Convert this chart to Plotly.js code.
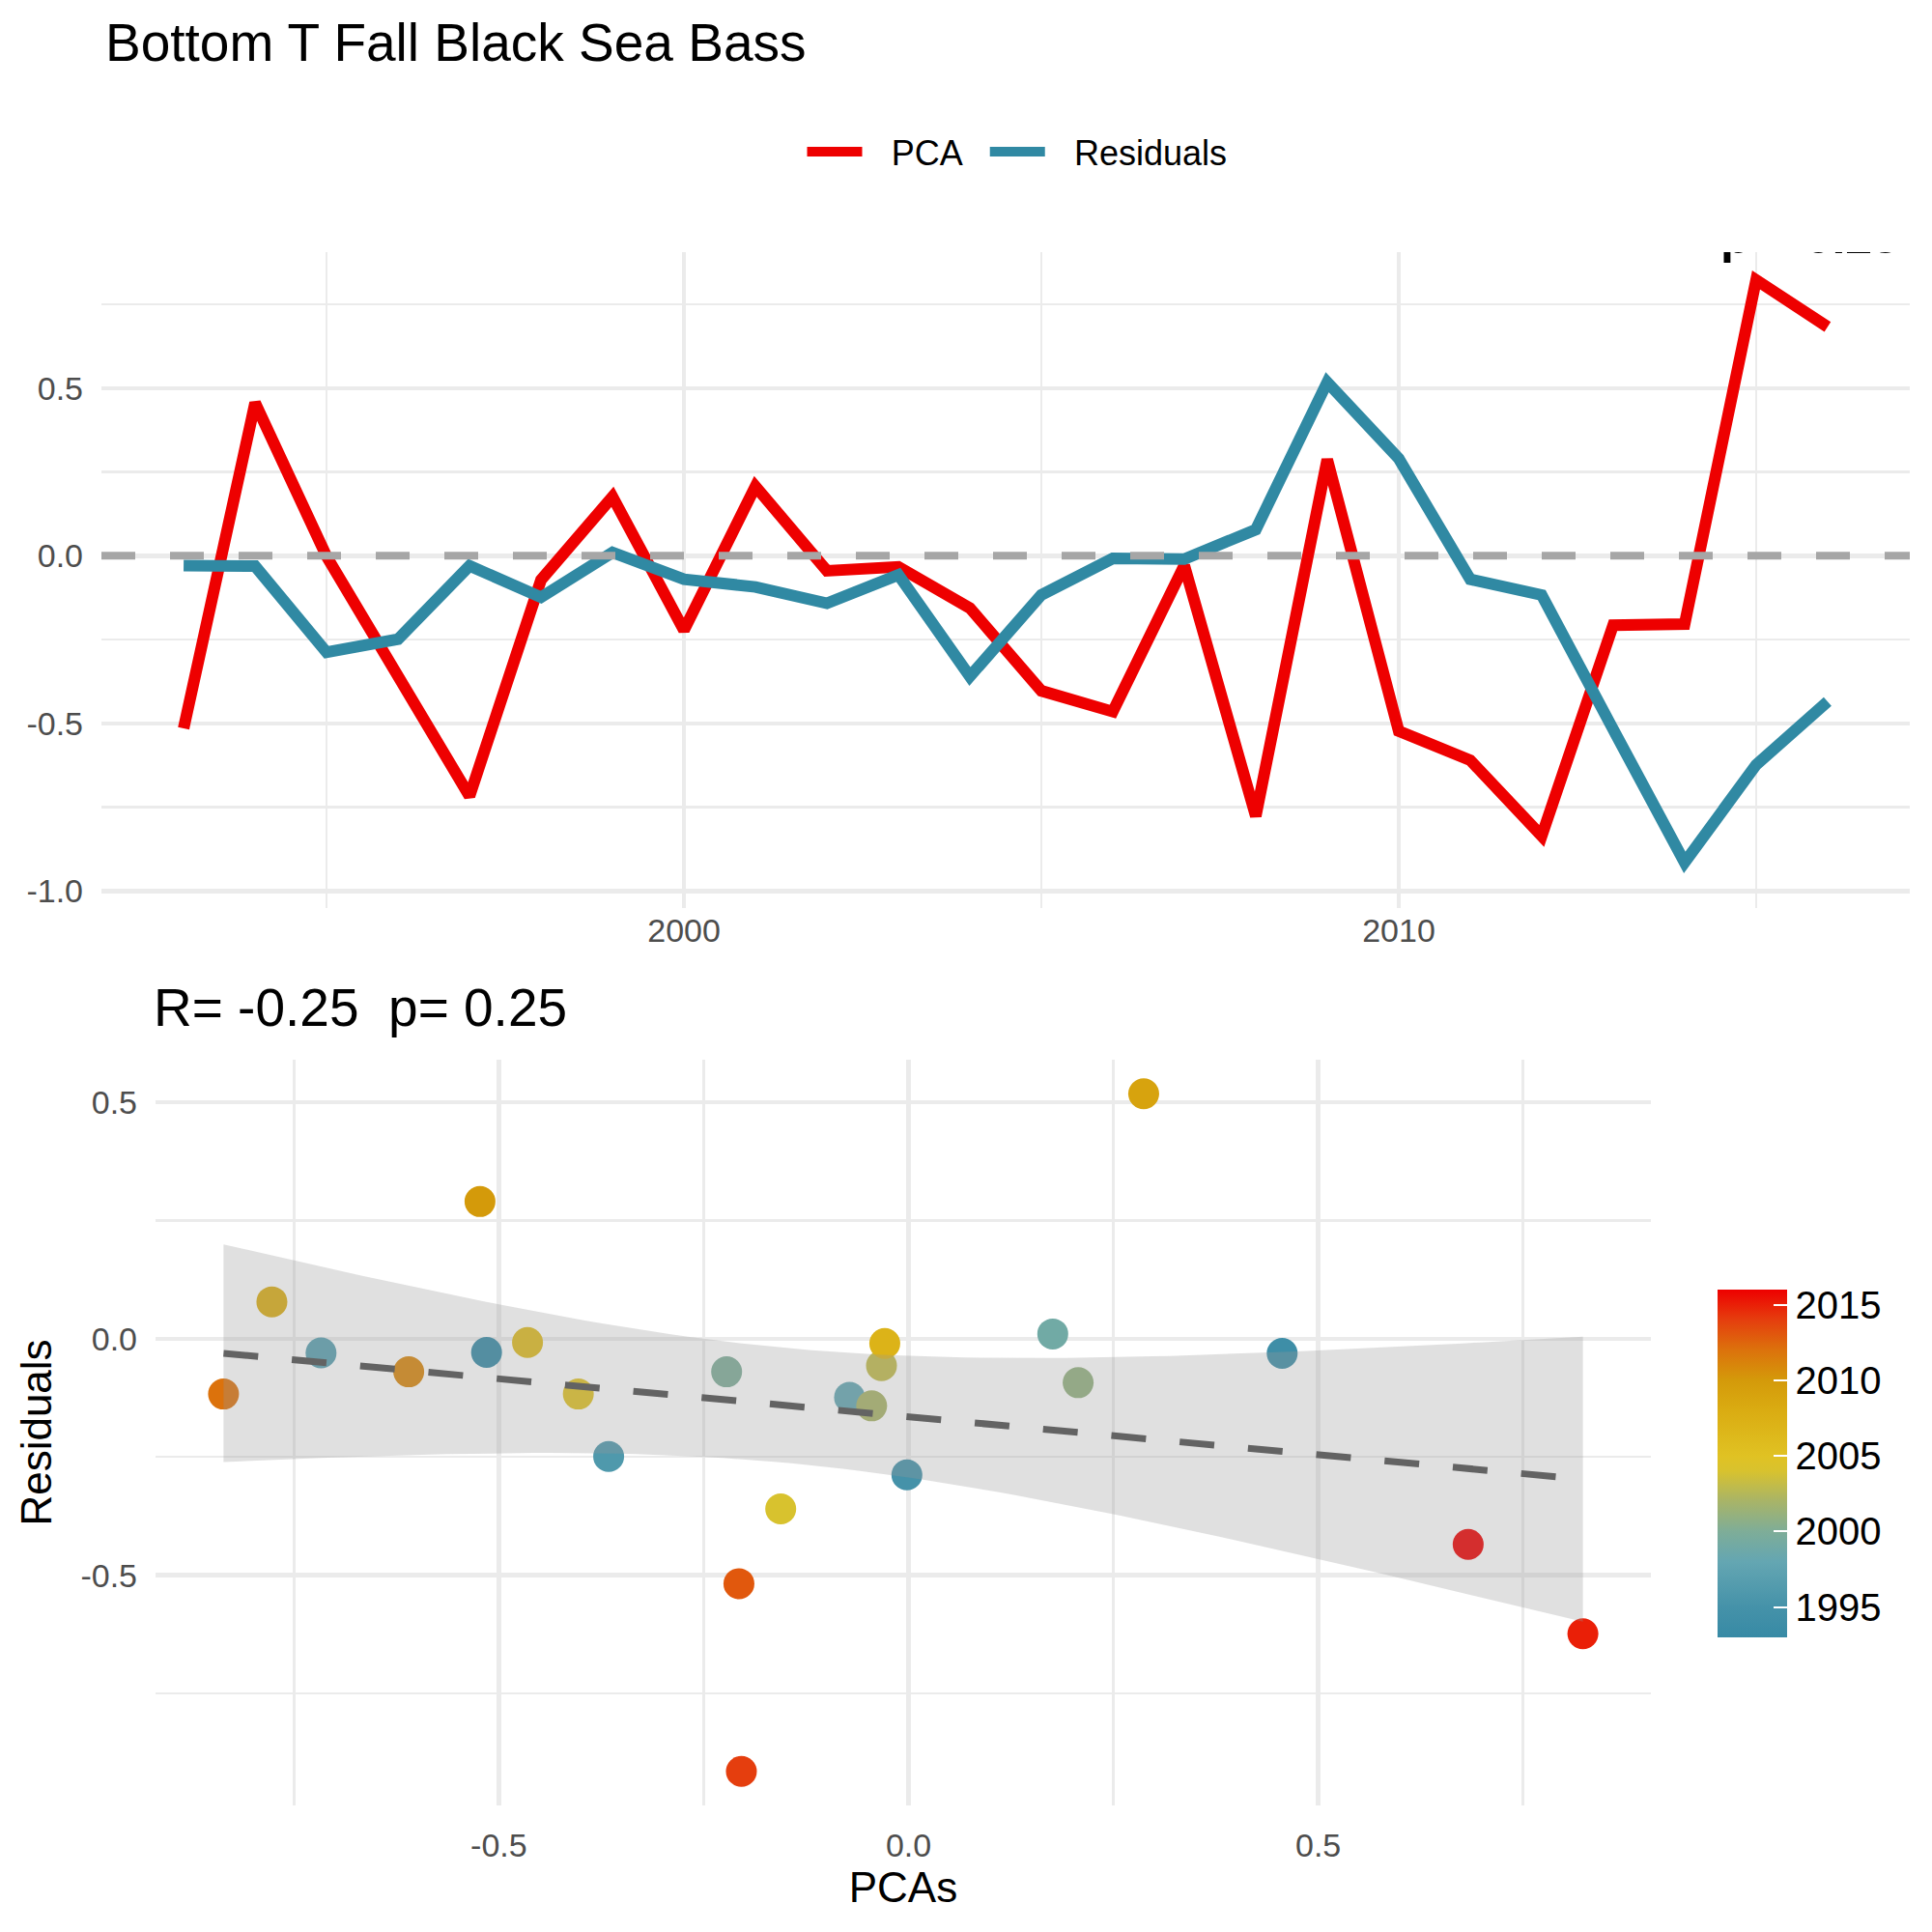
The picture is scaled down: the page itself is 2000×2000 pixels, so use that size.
<!DOCTYPE html>
<html>
<head>
<meta charset="utf-8">
<script src="https://cdn.plot.ly/plotly-3.0.1.min.js"></script>
<style>
  html, body { margin: 0; padding: 0; background: #fff; }
  #myDiv { width: 2000px; height: 2000px; }
</style>
</head>
<body>
<div id="myDiv"></div>
<script>
/* values */
var years = [1993, 1994, 1995, 1996, 1997, 1998, 1999, 2000, 2001, 2002, 2003, 2004,
             2005, 2006, 2007, 2008, 2009, 2010, 2011, 2012, 2013, 2014, 2015, 2016];
var pca = [-0.515, 0.456, -0.002, -0.366, -0.717, -0.072, 0.176, -0.222, 0.207, -0.045, -0.033, -0.156,
           -0.403, -0.465, -0.029, -0.777, 0.287, -0.523, -0.610, -0.836, -0.207, -0.204, 0.823, 0.683];
var resid = [-0.029, -0.031, -0.288, -0.249, -0.030, -0.124, 0.010, -0.070, -0.093, -0.142, -0.057, -0.360,
             -0.117, -0.008, -0.010, 0.078, 0.518, 0.290, -0.070, -0.117, -0.518, -0.915, -0.624, -0.435];

var mainTitle = "Bottom T Fall Black Sea Bass";
var corrTitle = "R= -0.25\u00a0\u00a0p= 0.25";
var cornerText = "p = 0.25";
var seriesNames = ["PCA", "Residuals"];

var topYearTicks = [2000, 2010];
var topYearMinor = [1995, 2005, 2015];
var topValTicks = [-1, -0.5, 0, 0.5];
var topValText = ["-1.0", "-0.5", "0.0", "0.5"];
var topValMinor = [-0.75, -0.25, 0.25, 0.75];
var pcaTicks = [-0.5, 0, 0.5];
var pcaText = ["-0.5", "0.0", "0.5"];
var pcaMinor = [-0.75, -0.25, 0.25, 0.75];
var resTicks = [-0.5, 0, 0.5];
var resText = ["-0.5", "0.0", "0.5"];
var resMinor = [-0.75, -0.25, 0.25];
var yearBarTicks = [1995, 2000, 2005, 2010, 2015];

var yearScale = [
  [0.000, "#378AA5"], [0.087, "#4592A9"], [0.217, "#64A6B2"], [0.304, "#7EAD98"],
  [0.391, "#A8B468"], [0.478, "#D8C22E"], [0.522, "#E0C223"], [0.652, "#DAAC12"],
  [0.739, "#D49A0A"], [0.826, "#DC720C"], [0.913, "#E53E0E"], [1.000, "#EE0000"]
];

var FONT = "Liberation Sans, Arial, Helvetica, sans-serif";
var GRID = "#EBEBEB";
var TICKCOL = "#4D4D4D";

/**************************************************************/
// lm fit of resid ~ pca with a 95% band, like geom_smooth(method = "lm")
function lmBand(xs, ys, npts) {
  var n = xs.length, i;
  var mx = 0, my = 0;
  for (i = 0; i < n; i++) { mx += xs[i]; my += ys[i]; }
  mx /= n; my /= n;
  var sxx = 0, sxy = 0;
  for (i = 0; i < n; i++) {
    sxx += (xs[i] - mx) * (xs[i] - mx);
    sxy += (xs[i] - mx) * (ys[i] - my);
  }
  var b = sxy / sxx, a = my - b * mx;
  var sse = 0;
  for (i = 0; i < n; i++) {
    var e = ys[i] - (a + b * xs[i]);
    sse += e * e;
  }
  var s = Math.sqrt(sse / (n - 2));
  var tq = 2.0739;   // qt(0.975, 22)
  var xmin = Math.min.apply(null, xs), xmax = Math.max.apply(null, xs);
  var gx = [], fit = [], lo = [], hi = [];
  for (i = 0; i < npts; i++) {
    var x = xmin + (xmax - xmin) * i / (npts - 1);
    var f = a + b * x;
    var se = s * Math.sqrt(1 / n + (x - mx) * (x - mx) / sxx);
    gx.push(x); fit.push(f); lo.push(f - tq * se); hi.push(f + tq * se);
  }
  return { x: gx, fit: fit, lo: lo, hi: hi };
}

function makeTraces() {
  var band = lmBand(pca, resid, 80);
  var ret = [];

  // nbsp padding to space legend text like ggplot's keys
  ret.push({
    x: years, y: pca, name: "\u2002\u2009" + seriesNames[0] + "\u2002", type: "scatter", mode: "lines",
    line: { color: "#EE0000", width: 12 },
    xaxis: "x", yaxis: "y"
  });
  ret.push({
    x: years, y: resid, name: "\u2002\u2009" + seriesNames[1], type: "scatter", mode: "lines",
    line: { color: "#3089A3", width: 12 },
    xaxis: "x", yaxis: "y"
  });
  // clipped corner label at the top of the first panel
  ret.push({
    x: [2017.0], y: [0.940], text: [cornerText], type: "scatter", mode: "text",
    textposition: "middle left", cliponaxis: true, showlegend: false, hoverinfo: "skip",
    textfont: { family: FONT, size: 50, color: "#000000", weight: "bold" },
    xaxis: "x", yaxis: "y"
  });

  ret.push({
    x: pca, y: resid, type: "scatter", mode: "markers", showlegend: false,
    marker: {
      size: 32, color: years, colorscale: yearScale, cmin: 1993, cmax: 2016,
      line: { width: 0 },
      showscale: true,
      colorbar: {
        x: 0.889, xanchor: "left", y: 0.2425, yanchor: "middle",
        len: 0.18, lenmode: "fraction", thickness: 72, thicknessmode: "pixels",
        outlinewidth: 0, xpad: 0, ypad: 0,
        tickmode: "array", tickvals: yearBarTicks,
        ticks: "inside", ticklen: 14, tickwidth: 2, tickcolor: "#FFFFFF",
        tickfont: { family: FONT, size: 40, color: "#000000" }
      }
    },
    xaxis: "x2", yaxis: "y2"
  });

  var bx = band.x.concat(band.x.slice().reverse());
  var by = band.hi.concat(band.lo.slice().reverse());
  ret.push({
    x: bx, y: by, type: "scatter", mode: "lines", fill: "toself",
    fillcolor: "rgba(153,153,153,0.3)", line: { width: 0 },
    showlegend: false, hoverinfo: "skip", xaxis: "x2", yaxis: "y2"
  });
  ret.push({
    x: band.x, y: band.fit, type: "scatter", mode: "lines",
    line: { color: "#636363", width: 7, dash: "36px,35px" },
    showlegend: false, xaxis: "x2", yaxis: "y2"
  });
  return ret;
}

function axisBase(tickvals, ticktext, minorvals) {
  return {
    tickmode: "array", tickvals: tickvals, ticktext: ticktext,
    tickfont: { family: FONT, size: 34, color: TICKCOL },
    showgrid: true, gridcolor: GRID, gridwidth: 4.5,
    minor: { tickmode: "array", tickvals: minorvals, showgrid: true, gridcolor: GRID, gridwidth: 2.5, ticks: "" },
    zeroline: false, showline: false, ticks: "", automargin: false, fixedrange: true
  };
}

function getLayout() {
  var xa = axisBase(topYearTicks, topYearTicks.map(String), topYearMinor);
  xa.domain = [0.0525, 0.9885]; xa.range = [1991.85, 2017.15]; xa.anchor = "y";
  xa.ticklabelstandoff = 0;

  var ya = axisBase(topValTicks, topValText, topValMinor);
  ya.domain = [0.5302, 0.8695]; ya.range = [-1.05, 0.906]; ya.anchor = "x";
  ya.ticklabelstandoff = 18;

  var xb = axisBase(pcaTicks, pcaText, pcaMinor);
  xb.domain = [0.0805, 0.8545]; xb.range = [-0.919, 0.906]; xb.anchor = "y2";
  xb.ticklabelstandoff = 18;
  xb.title = { text: "PCAs", font: { family: FONT, size: 44, color: "#000000" }, standoff: 7 };

  var yb = axisBase(resTicks, resText, resMinor);
  yb.domain = [0.0655, 0.4515]; yb.range = [-0.987, 0.59]; yb.anchor = "x2";
  yb.ticklabelstandoff = 18;
  yb.title = { text: "Residuals", font: { family: FONT, size: 44, color: "#000000" }, standoff: 16 };

  return {
    width: 2000, height: 2000,
    margin: { l: 0, r: 0, t: 0, b: 0 },
    paper_bgcolor: "#FFFFFF", plot_bgcolor: "#FFFFFF",
    font: { family: FONT, color: "#000000" },
    title: {
      text: mainTitle, x: 0.0545, xanchor: "left", y: 0.978, yanchor: "middle",
      font: { family: FONT, size: 55, color: "#000000" }
    },
    showlegend: true,
    legend: {
      orientation: "h", x: 0.5265, xanchor: "center", y: 0.9215, yanchor: "middle",
      font: { family: FONT, size: 36, color: "#000000" }, itemwidth: 57,
      bgcolor: "rgba(0,0,0,0)"
    },
    xaxis: xa, yaxis: ya, xaxis2: xb, yaxis2: yb,
    shapes: [{
      type: "line", xref: "x domain", x0: 0, x1: 1, yref: "y", y0: 0, y1: 0,
      line: { color: "#A6A6A6", width: 8, dash: "35px,36px" }, layer: "above"
    }],
    annotations: [{
      text: corrTitle, xref: "paper", yref: "paper", x: 0.0785, y: 0.4785,
      xanchor: "left", yanchor: "middle", showarrow: false,
      font: { family: FONT, size: 55, color: "#000000" }
    }],
    hovermode: false
  };
}

Plotly.newPlot("myDiv", makeTraces(), getLayout(), { displayModeBar: false, staticPlot: true });
</script>
</body>
</html>
